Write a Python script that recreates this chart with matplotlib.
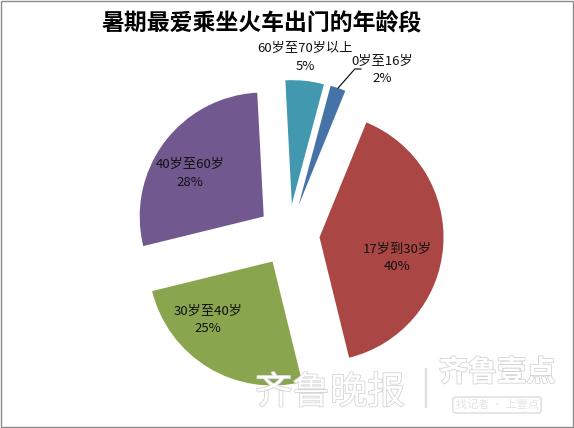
import matplotlib
matplotlib.use("Agg")
import matplotlib.pyplot as plt
import matplotlib.patheffects as pe
from matplotlib.patches import Rectangle
import numpy as np

plt.rcParams['font.family'] = ['Noto Sans CJK SC', 'DejaVu Sans']

# data (Excel pie, first slice rotated 15 deg)
categories = ["0岁至16岁", "17岁到30岁", "30岁至40岁", "40岁至60岁", "60岁至70岁以上"]
shares = [2, 40, 25, 28, 5]
colors = ["#4572A7", "#AA4643", "#89A54E", "#71588F", "#4198AF"]
title = "暑期最爱乘坐火车出门的年龄段"

W, H = 574, 428
cx, cy, R = 288.6, 235.0, 124.0  # pie centre / radius in pixels


def px(x, y):
    """pixel position in the picture -> data units of the pie axes"""
    return (x - cx) / R, (cy - y) / R


fig = plt.figure(figsize=(W / 100, H / 100), dpi=100)
ax = fig.add_axes([0, 0, 1, 1])
wedges, _ = ax.pie(shares, colors=colors, startangle=75, counterclock=False,
                   explode=[0.25] * len(shares), radius=1.0)
ax.set_xlim(-cx / R, (W - cx) / R)
ax.set_ylim(-(H - cy) / R, cy / R)
ax.axis("off")

# label spots (pixels) as they sit in the reference
label_px = [(382, 70), (397, 258), (208, 320), (190, 173), (305, 57)]
for name, v, (lx, ly) in zip(categories, shares, label_px):
    x, y = px(lx, ly)
    ax.text(x, y, f"{name}\n{v}%", ha="center", va="center",
            fontsize=9.5, color="#111111", linespacing=1.5)

# leader line for the tiny blue slice
w = wedges[0]
mid = np.deg2rad((w.theta1 + w.theta2) / 2)
sx, sy = w.center[0] + np.cos(mid), w.center[1] + np.sin(mid)
ex, ey = px(361, 69)
ax.plot([sx, ex - 0.05, ex], [sy, ey, ey], color="black", lw=0.8)

fig.text(262 / W, 1 - 24 / H, title, ha="center", va="center",
         fontsize=16.5, fontweight="bold", color="black")

# watermark: white text with a faint grey rim
halo = [pe.withStroke(linewidth=1.2, foreground="#d4d4d4")]
fig.text(330 / W, 1 - 393 / H, "齐鲁晚报", ha="center", va="center",
         fontsize=27, color="white", style="italic", path_effects=halo)
fig.text(425 / W, 1 - 388 / H, "|", ha="center", va="center",
         fontsize=26, color="#dddddd")
fig.text(497 / W, 1 - 372 / H, "齐鲁壹点", ha="center", va="center",
         fontsize=21, color="white", fontweight="bold", path_effects=halo)
fig.text(497 / W, 1 - 405 / H, "找记者 · 上壹点", ha="center", va="center",
         fontsize=8, color="#e4e4e4",
         bbox=dict(boxstyle="round,pad=0.25", fc="none", ec="#dcdcdc", lw=1))

fig.patches.append(Rectangle((0.002, 0.003), 0.996, 0.994, transform=fig.transFigure,
                             fill=False, ec="#8c8c8c", lw=1))

fig.savefig("out.png", dpi=100)
